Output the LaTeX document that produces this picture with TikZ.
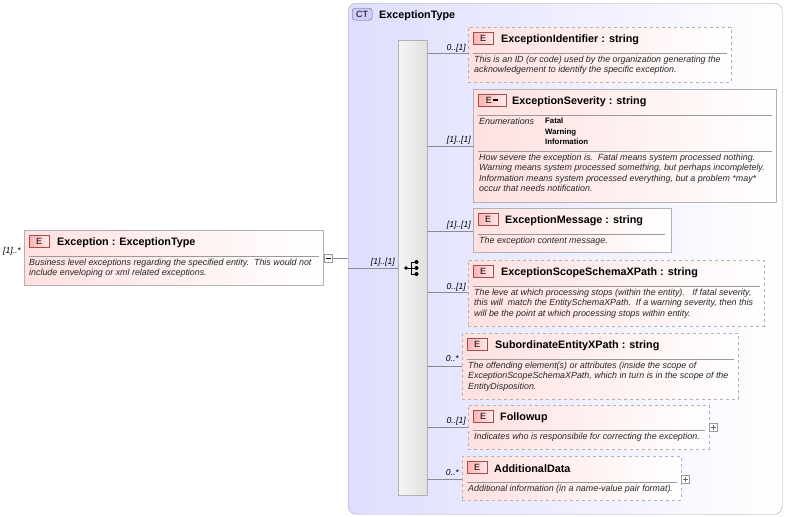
\documentclass[tikz,border=0pt]{standalone}
\usepackage{fontspec}
\setmainfont{Liberation Sans}
\begin{document}
\begin{tikzpicture}[x=1pt,y=-1pt,
  box/.style={draw=black!30, left color=red!12, right color=white, anchor=north west, inner sep=0},
  opt/.style={box, dashed},
  badge/.style={draw=red!50!black!70, left color=red!30, right color=red!8, minimum width=20, minimum height=12, inner sep=0, anchor=north west, font=\fontsize{9}{9}\selectfont},
  ttl/.style={anchor=west, inner sep=0, yshift=-1.5pt, font=\fontsize{10.8}{12}\selectfont\bfseries},
  dsc/.style={anchor=north west, inner sep=0, align=left, font=\fontsize{8.9}{10.3}\selectfont\itshape, text=black!85},
  mult/.style={anchor=east, inner sep=0, font=\fontsize{8.6}{9}\selectfont\itshape},
  sep/.style={draw=black!40},
  con/.style={draw=black!45},
  pm/.style={draw=black!40, fill=white, minimum size=8, inner sep=0}]
\useasboundingbox (0,0) rectangle (788,517);
% CT
\node[draw=black!35, rounded corners=8, left color=blue!13, right color=white, minimum width=434, minimum height=511, anchor=north west] (ct) at (348,3) {};
\node[draw=black!60, rounded corners=3, fill=blue!20, minimum width=20, minimum height=12, inner sep=0, anchor=north west, font=\fontsize{9}{9}\selectfont] (ctb) at (352,8) {CT};
\node[ttl] (ctt) at (379,14) {ExceptionType};
% sequence bar
\node[draw=black!30, left color=black!4, right color=black!12, minimum width=29, minimum height=455, anchor=north west] (bar) at (398,40) {};
\node (seq) at (413,268) {};
\draw (406,268) -- (411,268) (411,262) -- (411,274) (411,262) -- (416,262) (411,268) -- (416,268) (411,274) -- (416,274);
\fill (406,268) circle (1.8) (416.5,262) circle (2) (416.5,268) circle (2) (416.5,274) circle (2);
% Exception
\node[box, minimum width=299, minimum height=55] (ex) at (24,230) {};
\node[badge] (exb) at (29,235) {E};
\node[ttl] (ext) at (57,241) {Exception : ExceptionType};
\draw[sep] (29,256) -- (319,256);
\node[dsc] (exd) at (29,259) {Business level exceptions regarding the specified entity.\ \ This would not\\include enveloping or xml related exceptions.};
\node[mult] (exm) at (21,251) {[1]..*};
\node[pm] (exp) at (328,258) {};
\draw (325.5,258) -- (330.5,258);
\coordinate (j1) at (348,258);
\coordinate (j2) at (348,268);
\draw[con] (exp.east) -- (j1);
\draw[con] (j2) -- (j2 -| bar.west);
\node[mult] (sm) at (395,262) {[1]..[1]};
% 1
\node[opt, minimum width=263, minimum height=55] (c1) at (468,27) {};
\node[badge] at (473,32) {E};
\node[ttl] at (501,38) {ExceptionIdentifier : string};
\draw[sep] (473,53) -- (727,53);
\node[dsc] at (474,56) {This is an ID (or code) used by the organization generating the\\acknowledgement to identify the specific exception.};
\coordinate (k1) at (427,53); \draw[con] (k1) -- (k1 -| c1.west);
\node[mult] at (466,48) {0..[1]};
% 2
\node[box, minimum width=303, minimum height=113] (c2) at (473,89) {};
\node[badge, minimum width=28] at (478,94) {E\,\rule[2.5pt]{5pt}{1.5pt}};
\node[ttl] at (512,100) {ExceptionSeverity : string};
\draw[sep] (478,115) -- (772,115);
\node[dsc] at (479,118) {Enumerations};
\node[anchor=north west, inner sep=0, align=left, font=\fontsize{7.8}{10.3}\selectfont\bfseries] at (545,118) {Fatal\\Warning\\Information};
\draw[sep] (478,151) -- (772,151);
\node[dsc] at (479,154) {How severe the exception is.\ \ Fatal means system processed nothing.\\Warning means system processed something, but perhaps incompletely.\\Information means system processed everything, but a problem *may*\\occur that needs notification.};
\coordinate (k2) at (427,146); \draw[con] (k2) -- (k2 -| c2.west);
\node[mult] at (471,140) {[1]..[1]};
% 3
\node[box, minimum width=198, minimum height=44] (c3) at (473,208) {};
\node[badge] at (478,213) {E};
\node[ttl] at (505,219) {ExceptionMessage : string};
\draw[sep] (478,234) -- (665,234);
\node[dsc] at (479,237) {The exception content message.};
\coordinate (k3) at (427,231); \draw[con] (k3) -- (k3 -| c3.west);
\node[mult] at (471,225) {[1]..[1]};
% 4
\node[opt, minimum width=296, minimum height=66] (c4) at (468,260) {};
\node[badge] at (473,265) {E};
\node[ttl] at (501,271) {ExceptionScopeSchemaXPath : string};
\draw[sep] (473,286) -- (760,286);
\node[dsc] at (474,289) {The leve at which processing stops (within the entity).\ \ \ If fatal severity,\\this will\ \ match the EntitySchemaXPath.\ \ If a warning severity, then this\\will be the point at which processing stops within entity.};
\coordinate (k4) at (427,292); \draw[con] (k4) -- (k4 -| c4.west);
\node[mult] at (466,287) {0..[1]};
% 5
\node[opt, minimum width=276, minimum height=66] (c5) at (462,333) {};
\node[badge] at (467,338) {E};
\node[ttl] at (495,344) {SubordinateEntityXPath : string};
\draw[sep] (467,359) -- (734,359);
\node[dsc] at (468,362) {The offending element(s) or attributes (inside the scope of\\ExceptionScopeSchemaXPath, which in turn is in the scope of the\\EntityDisposition.};
\coordinate (k5) at (427,366); \draw[con] (k5) -- (k5 -| c5.west);
\node[mult] at (459,359) {0..*};
% 6
\node[opt, minimum width=241, minimum height=44] (c6) at (468,405) {};
\node[badge] at (473,410) {E};
\node[ttl] at (500,416) {Followup};
\draw[sep] (473,430) -- (705,430);
\node[dsc] at (474,433) {Indicates who is responsibile for correcting the exception.};
\coordinate (k6) at (427,427); \draw[con] (k6) -- (k6 -| c6.west);
\node[mult] at (466,421) {0..[1]};
\node[pm] (p6) at (713.5,427) {};
\draw[black!60] (711,427) -- (716,427) (713.5,424.5) -- (713.5,429.5);
% 7
\node[opt, minimum width=219, minimum height=44] (c7) at (462,456) {};
\node[badge] at (467,461) {E};
\node[ttl] at (494,467) {AdditionalData};
\draw[sep] (467,482) -- (677,482);
\node[dsc] at (468,485) {Additional information (in a name-value pair format).};
\coordinate (k7) at (427,479); \draw[con] (k7) -- (k7 -| c7.west);
\node[mult] at (459,473) {0..*};
\node[pm] (p7) at (685.5,479) {};
\draw[black!60] (683,479) -- (688,479) (685.5,476.5) -- (685.5,481.5);
\end{tikzpicture}
\end{document}
